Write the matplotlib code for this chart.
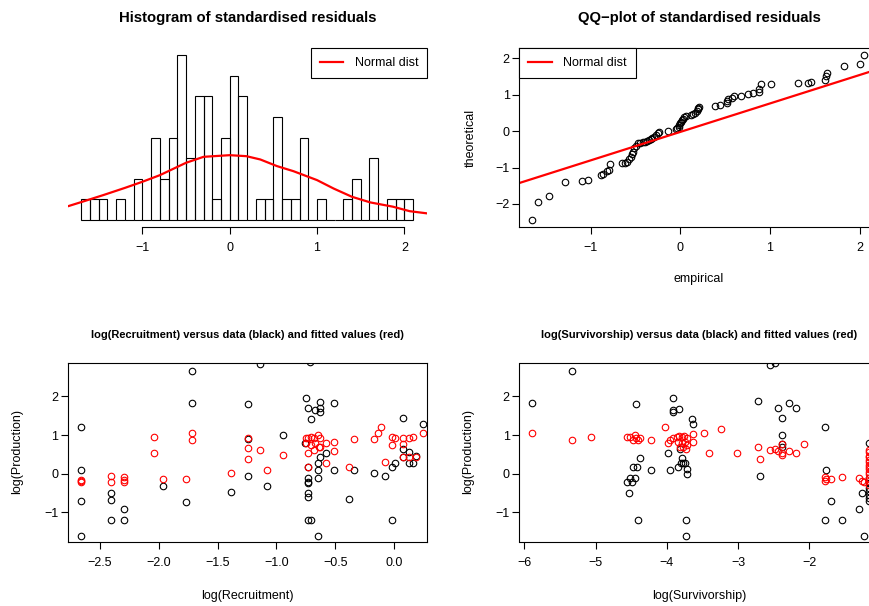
import numpy as np
import matplotlib.pyplot as plt

plt.rcParams['font.family'] = ['Liberation Sans', 'DejaVu Sans']
plt.rcParams['font.size'] = 9

# Histogram of standardised residuals: counts per 0.1-wide bin starting at -1.7
hist_start = -1.7
hist_width = 0.1
hist_counts = [1, 1, 1, 0, 1, 0, 2, 0, 4, 2, 4, 8, 3, 6, 6, 1, 4, 7, 6, 0,
               1, 1, 5, 1, 1, 4, 0, 1, 0, 0, 1, 2, 0, 3, 0, 1, 1, 1]

# Smoothed density drawn over the histogram
dens_x = [-1.87, -1.70, -1.45, -1.20, -1.00, -0.80, -0.50, -0.30, 0.00, 0.19,
          0.35, 0.54, 0.73, 1.00, 1.19, 1.40, 1.61, 1.87, 2.06, 2.27]
dens_y = [0.081, 0.109, 0.151, 0.195, 0.232, 0.272, 0.347, 0.383, 0.393, 0.387,
          0.367, 0.327, 0.296, 0.242, 0.191, 0.141, 0.107, 0.081, 0.054, 0.040]

# QQ-plot: empirical vs theoretical quantiles
qq_emp = [-1.65, -1.59, -1.46, -1.285, -1.095, -1.03, -0.884, -0.865, -0.821, -0.79,
          -0.78, -0.646, -0.62, -0.59, -0.572, -0.553, -0.535, -0.527, -0.512, -0.49,
          -0.475, -0.449, -0.42, -0.394, -0.371, -0.353, -0.33, -0.312, -0.29, -0.271,
          -0.252, -0.234, -0.137, -0.048, -0.033, -0.02, -0.011, 0.0, 0.011, 0.022,
          0.033, 0.041, 0.063, 0.115, 0.145, 0.16, 0.186, 0.195, 0.2, 0.204,
          0.386, 0.438, 0.516, 0.525, 0.535, 0.572, 0.594, 0.672, 0.75, 0.813,
          0.873, 0.88, 0.902, 1.014, 1.315, 1.426, 1.456, 1.619, 1.63, 1.634,
          1.827, 2.005, 2.05]
qq_theo = [-2.44, -1.95, -1.78, -1.40, -1.37, -1.35, -1.21, -1.19, -1.09, -1.07,
           -0.895, -0.886, -0.868, -0.84, -0.776, -0.703, -0.64, -0.566, -0.475, -0.40,
           -0.338, -0.32, -0.31, -0.29, -0.265, -0.247, -0.228, -0.183, -0.155, -0.11,
           -0.055, -0.018, 0.009, 0.046, 0.073, 0.12, 0.17, 0.21, 0.247, 0.30,
           0.33, 0.374, 0.41, 0.447, 0.466, 0.50, 0.548, 0.60, 0.625, 0.667,
           0.68, 0.712, 0.78, 0.82, 0.868, 0.913, 0.959, 0.968, 1.005, 1.03,
           1.07, 1.16, 1.28, 1.29, 1.31, 1.32, 1.35, 1.40, 1.51, 1.59,
           1.78, 1.83, 2.08]
qq_intercept = -0.025
qq_slope = 0.78

# log(Recruitment): observed production (black)
rec_x = [-2.66, -2.66, -2.66, -2.66, -2.41, -2.41, -2.41, -2.30, -2.30, -1.96,
         -1.77, -1.715, -1.715, -1.386, -1.24, -1.24, -1.24, -1.14, -1.077, -0.941,
         -0.757, -0.75, -0.728, -0.728, -0.728, -0.728, -0.728, -0.728, -0.728, -0.728,
         -0.71, -0.708, -0.708, -0.67, -0.65, -0.65, -0.65, -0.65, -0.629, -0.629,
         -0.629, -0.629, -0.576, -0.508, -0.508, -0.383, -0.337, -0.17, -0.079, -0.014,
         0.009, -0.014, 0.079, 0.079, 0.079, 0.13, 0.13, 0.165, 0.187, 0.244]
rec_y = [1.20, 0.095, -0.70, -1.61, -0.51, -0.68, -1.20, -0.92, -1.20, -0.31,
         -0.73, 2.65, 1.82, -0.47, 1.80, 0.89, -0.06, 2.83, -0.31, 1.00,
         0.785, 1.95, 1.71, 0.18, -0.10, -0.21, -0.23, -0.51, -0.59, -1.20,
         2.88, 1.41, -1.20, 1.65, 0.27, 0.095, -0.10, -1.61, 1.86, 1.69,
         1.59, 0.42, 0.54, 1.835, 0.095, -0.65, 0.095, 0.01, -0.06, 0.18,
         0.27, -1.20, 1.45, 0.64, 0.42, 0.57, 0.27, 0.27, 0.46, 1.28]
# log(Recruitment): fitted production (red)
rec_fx = [-2.66, -2.66, -2.66, -2.41, -2.41, -2.30, -2.30, -2.30, -2.038, -2.038,
          -1.964, -1.771, -1.715, -1.715, -1.386, -1.239, -1.239, -1.239, -1.138, -1.077,
          -0.941, -0.75, -0.728, -0.708, -0.68, -0.65, -0.629, -0.75, -0.708, -0.67,
          -0.64, -0.728, -0.68, -0.629, -0.728, -0.576, -0.576, -0.508, -0.508, -0.383,
          -0.337, -0.17, -0.139, -0.11, -0.079, -0.014, 0.009, -0.014, 0.079, 0.079,
          0.079, 0.13, 0.165, 0.13, 0.187, 0.244]
rec_fy = [-0.16, -0.18, -0.21, -0.06, -0.21, -0.08, -0.16, -0.21, 0.96, 0.535,
          -0.13, -0.14, 1.05, 0.87, 0.03, 0.91, 0.67, 0.37, 0.61, 0.095,
          0.49, 0.91, 0.93, 0.96, 0.92, 1.01, 0.91, 0.785, 0.74, 0.80,
          0.70, 0.54, 0.61, 0.68, 0.17, 0.80, 0.27, 0.81, 0.58, 0.18,
          0.90, 0.90, 1.04, 1.20, 0.30, 0.94, 0.93, 0.74, 0.93, 0.76,
          0.44, 0.93, 0.94, 0.42, 0.42, 1.04]

# log(Survivorship): observed production (black)
surv_x = [-5.888, -5.326, -4.428, -4.381, -4.479, -4.422, -4.517, -4.442, -4.563, -4.484,
          -4.53, -4.404, -4.226, -3.979, -3.955, -3.917, -3.917, -3.917, -3.833, -3.787,
          -3.843, -3.80, -3.775, -3.75, -3.712, -3.71, -3.73, -3.73, -3.642, -3.633,
          -3.815, -2.724, -2.688, -2.551, -2.48, -2.444, -2.379, -2.379, -2.379, -2.379,
          -2.28, -2.186, -1.775, -1.761, -1.775, -1.70, -1.545, -1.302, -1.26, -1.228,
          -1.158, -1.158, -1.158, -1.158, -1.158, -1.158, -1.158, -1.158]
surv_y = [1.82, 2.65, 1.80, 0.41, 0.18, 0.18, -0.10, -0.10, -0.22, -0.22,
          -0.51, -1.20, 0.095, 0.53, 0.095, 1.95, 1.65, 1.59, 1.67, 0.41,
          0.18, 0.27, 0.27, 0.27, 0.12, 0.0, -1.20, -1.61, 1.41, 1.28,
          0.63, 1.87, -0.06, 2.81, 2.85, 1.69, 1.45, 1.00, 0.76, 0.70,
          1.835, 1.71, 1.20, 0.095, -1.20, -0.70, -1.20, -0.92, -0.51, -1.61,
          0.80, -0.12, -0.25, -0.36, -0.45, -0.55, -0.62, -0.70]
# log(Survivorship): fitted production (red)
surv_fx = [-5.888, -5.326, -5.06, -4.563, -4.52, -4.45, -4.43, -4.40, -4.48, -4.38,
           -4.226, -4.025, -3.979, -3.95, -3.913, -3.861, -3.824, -3.79, -3.76, -3.72,
           -3.84, -3.79, -3.75, -3.81, -3.77, -3.71, -3.73, -3.633, -3.628, -3.478,
           -3.403, -3.244, -3.019, -2.724, -2.688, -2.551, -2.48, -2.444, -2.379, -2.379,
           -2.379, -2.28, -2.186, -2.074, -1.775, -1.775, -1.761, -1.70, -1.545, -1.302,
           -1.26, -1.228, -1.165, -1.165, -1.165, -1.165, -1.165, -1.165, -1.165, -1.165,
           -1.165, -1.165, -1.165, -1.165, -1.165, -1.165]
surv_fy = [1.05, 0.87, 0.96, 0.96, 0.94, 1.01, 0.93, 0.88, 0.88, 0.93,
           0.87, 1.20, 0.80, 0.88, 0.91, 0.94, 0.97, 0.94, 0.97, 0.91,
           0.83, 0.80, 0.83, 0.70, 0.70, 0.74, 0.63, 0.81, 1.03, 1.04,
           0.54, 1.16, 0.54, 0.70, 0.37, 0.61, 0.65, 0.58, 0.77, 0.53,
           0.49, 0.59, 0.53, 0.76, -0.08, -0.18, -0.14, -0.14, -0.08, -0.12,
           -0.20, -0.22, 0.61, 0.55, 0.47, 0.42, 0.35, 0.30, 0.23, 0.17,
           0.12, 0.05, -0.02, -0.10, -0.18, -0.30]

W, H = 870, 606
fig = plt.figure(figsize=(W / 100, H / 100), dpi=100)


def axes_px(left, top, right, bottom):
    return fig.add_axes([left / W, 1 - bottom / H, (right - left) / W, (bottom - top) / H])


def text_px(x, y, s, **kw):
    fig.text(x / W, 1 - y / H, s, ha='center', va='center', **kw)


def r_style(ax):
    for sp in ax.spines.values():
        sp.set_linewidth(0.8)
    ax.tick_params(direction='out', length=5, width=0.8, labelsize=9)
    ax.tick_params(axis='x', pad=6)
    ax.tick_params(axis='y', pad=2)


col_l = (68, 427)
col_r = (519.5, 878.5)
row_t = (48.3, 226.7)
row_b = (363.3, 541.7)

# --- histogram ---
ax1 = axes_px(col_l[0], row_t[0], col_l[1], row_t[1])
counts = np.array(hist_counts, dtype=float)
edges = hist_start + hist_width * np.arange(len(counts))
density = counts / (counts.sum() * hist_width)
ax1.bar(edges, density, width=hist_width, align='edge', fill=False,
        edgecolor='black', linewidth=0.8)
ax1.plot(dens_x, dens_y, color='red', lw=1.6, label='Normal dist')
ax1.set_xlim(-1.852, 2.259)
ax1.set_ylim(-0.04, 1.04)
r_style(ax1)
for s in ['left', 'right', 'top']:
    ax1.spines[s].set_visible(False)
ax1.spines['bottom'].set_bounds(-1, 2)
ax1.set_xticks([-1, 0, 1, 2])
ax1.set_yticks([])
ax1.legend(loc='upper right', borderaxespad=0, fancybox=False, edgecolor='black',
           framealpha=1, handlelength=1.9, handletextpad=0.9, borderpad=0.7,
           fontsize=9).get_frame().set_linewidth(0.8)
text_px(247.5, 18, 'Histogram of standardised residuals', fontsize=10.7, fontweight='bold')

# --- QQ-plot ---
ax2 = axes_px(col_r[0], row_t[0], col_r[1], row_t[1])
ax2.plot(qq_emp, qq_theo, 'o', mfc='none', mec='black', ms=4.7, mew=0.8)
ax2.axline((0, qq_intercept), slope=qq_slope, color='red', lw=1.6, label='Normal dist')
ax2.set_xlim(-1.793, 2.21)
ax2.set_ylim(-2.622, 2.266)
ax2.set_xticks([-1, 0, 1, 2])
ax2.set_yticks([-2, -1, 0, 1, 2])
r_style(ax2)
ax2.legend(loc='upper left', borderaxespad=0, fancybox=False, edgecolor='black',
           framealpha=1, handlelength=1.9, handletextpad=0.9, borderpad=0.7,
           fontsize=9).get_frame().set_linewidth(0.8)
text_px(699, 18, 'QQ\u2212plot of standardised residuals', fontsize=10.7, fontweight='bold')
text_px(699, 279, 'empirical', fontsize=9)
text_px(471, 138, 'theoretical', fontsize=9, rotation=90)

# --- production vs recruitment ---
ax3 = axes_px(col_l[0], row_b[0], col_l[1], row_b[1])
ax3.plot(rec_x, rec_y, 'o', mfc='none', mec='black', ms=4.7, mew=0.8)
ax3.plot(rec_fx, rec_fy, 'o', mfc='none', mec='red', ms=4.7, mew=0.8)
ax3.set_xlim(-2.772, 0.281)
ax3.set_ylim(-1.757, 2.853)
ax3.set_xticks([-2.5, -2.0, -1.5, -1.0, -0.5, 0.0])
ax3.set_xticklabels(['\u22122.5', '\u22122.0', '\u22121.5', '\u22121.0', '\u22120.5', '0.0'])
ax3.set_yticks([-1, 0, 1, 2])
r_style(ax3)
text_px(247.5, 335, 'log(Recruitment) versus data (black) and fitted values (red)',
        fontsize=8, fontweight='bold')
text_px(247.5, 596, 'log(Recruitment)', fontsize=9)
text_px(17, 452, 'log(Production)', fontsize=9, rotation=90)

# --- production vs survivorship ---
ax4 = axes_px(col_r[0], row_b[0], col_r[1], row_b[1])
ax4.plot(surv_x, surv_y, 'o', mfc='none', mec='black', ms=4.7, mew=0.8)
ax4.plot(surv_fx, surv_fy, 'o', mfc='none', mec='red', ms=4.7, mew=0.8)
ax4.set_xlim(-6.067, -1.029)
ax4.set_ylim(-1.757, 2.853)
ax4.set_xticks([-6, -5, -4, -3, -2])
ax4.set_yticks([-1, 0, 1, 2])
r_style(ax4)
text_px(699, 335, 'log(Survivorship) versus data (black) and fitted values (red)',
        fontsize=8, fontweight='bold')
text_px(699, 596, 'log(Survivorship)', fontsize=9)
text_px(468, 452, 'log(Production)', fontsize=9, rotation=90)

fig.savefig('out.png', dpi=100)
